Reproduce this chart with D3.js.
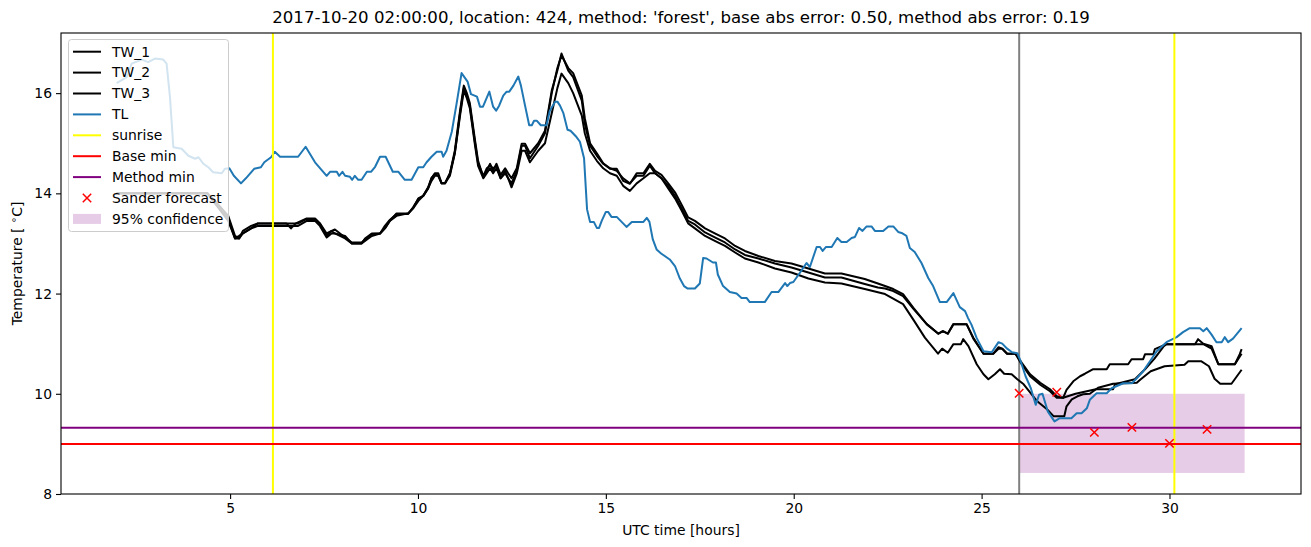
<!DOCTYPE html>
<html><head><meta charset="utf-8">
<script src="https://cdn.jsdelivr.net/npm/d3@7"></script>
<style>body{margin:0;background:#fff}svg text{font-family:"DejaVu Sans",sans-serif}</style>
</head><body><svg id="c" width="1311" height="547"></svg>
<script>
const titleText = "2017-10-20 02:00:00, location: 424, method: 'forest', base abs error: 0.50, method abs error: 0.19";
const xTicks = [5, 10, 15, 20, 25, 30];
const yTicks = [8, 10, 12, 14, 16];
const seriesNames = ["TW_1", "TW_2", "TW_3", "TL"];
const tl = [[1.98,16.2],[2.25,16.32],[2.38,16.59],[2.65,16.67],[2.82,16.62],[3.0,16.69],[3.22,16.67],[3.31,16.59],[3.4,15.92],[3.49,14.92],[3.71,14.89],[3.89,14.75],[4.07,14.69],[4.16,14.72],[4.29,14.59],[4.42,14.52],[4.55,14.42],[4.78,14.4],[4.86,14.49],[4.98,14.5],[5.1,14.35],[5.29,14.2],[5.42,14.3],[5.64,14.49],[5.82,14.52],[5.91,14.62],[6.09,14.72],[6.19,14.83],[6.33,14.73],[6.81,14.73],[7.01,14.93],[7.26,14.62],[7.57,14.35],[7.66,14.43],[7.84,14.43],[7.9,14.35],[7.99,14.43],[8.06,14.35],[8.19,14.33],[8.25,14.27],[8.32,14.35],[8.41,14.27],[8.5,14.27],[8.64,14.43],[8.75,14.43],[8.86,14.53],[8.99,14.73],[9.14,14.73],[9.33,14.43],[9.48,14.43],[9.65,14.27],[9.83,14.27],[10.01,14.52],[10.14,14.52],[10.23,14.62],[10.36,14.73],[10.5,14.83],[10.63,14.83],[10.67,14.73],[10.76,14.85],[10.9,15.23],[11.03,15.8],[11.16,16.4],[11.32,16.23],[11.41,15.98],[11.57,15.93],[11.65,15.73],[11.73,15.73],[11.9,16.03],[12.0,15.73],[12.08,15.65],[12.16,15.75],[12.27,15.95],[12.36,16.03],[12.43,16.03],[12.54,16.15],[12.67,16.33],[12.74,16.15],[12.85,15.75],[12.96,15.36],[13.03,15.36],[13.09,15.45],[13.16,15.45],[13.27,15.36],[13.42,15.36],[13.51,15.65],[13.65,15.83],[13.71,15.83],[13.78,15.75],[13.87,15.6],[13.98,15.27],[14.06,15.25],[14.2,15.14],[14.31,15.03],[14.42,14.7],[14.5,13.68],[14.58,13.43],[14.68,13.43],[14.76,13.31],[14.82,13.31],[14.89,13.45],[15.0,13.63],[15.06,13.63],[15.15,13.53],[15.29,13.53],[15.42,13.43],[15.55,13.33],[15.69,13.43],[16.0,13.43],[16.09,13.51],[16.16,13.43],[16.25,13.08],[16.35,12.88],[16.47,12.8],[16.7,12.68],[16.84,12.55],[16.97,12.3],[17.08,12.15],[17.18,12.1],[17.37,12.1],[17.5,12.2],[17.59,12.71],[17.68,12.7],[17.85,12.62],[17.93,12.62],[17.98,12.38],[18.12,12.15],[18.3,12.03],[18.48,12.0],[18.61,11.91],[18.75,11.91],[18.83,11.83],[19.23,11.83],[19.41,12.03],[19.59,12.03],[19.77,12.21],[19.83,12.15],[19.9,12.21],[19.99,12.23],[20.16,12.41],[20.34,12.61],[20.43,12.53],[20.61,12.93],[20.7,12.93],[20.77,12.85],[20.86,12.93],[21.01,12.93],[21.16,13.11],[21.27,13.03],[21.41,13.03],[21.54,13.11],[21.63,13.13],[21.74,13.31],[21.83,13.25],[21.94,13.34],[22.07,13.34],[22.16,13.25],[22.38,13.25],[22.52,13.34],[22.65,13.34],[22.78,13.23],[22.87,13.21],[23.0,13.15],[23.09,12.91],[23.22,12.83],[23.4,12.61],[23.58,12.31],[23.71,12.15],[23.89,11.83],[24.07,11.83],[24.25,12.01],[24.42,11.73],[24.56,11.65],[24.64,11.51],[24.73,11.38],[24.87,11.11],[25.05,10.85],[25.27,10.83],[25.45,11.03],[25.55,11.0],[25.68,10.9],[25.81,10.83],[25.95,10.81],[26.04,10.65],[26.17,10.35],[26.31,10.11],[26.44,9.78],[26.53,9.98],[26.62,10.0],[26.76,9.65],[26.94,9.45],[27.07,9.51],[27.39,9.51],[27.53,9.61],[27.66,9.61],[27.8,9.71],[27.88,9.88],[28.06,10.01],[28.33,10.01],[28.46,10.11],[28.77,10.21],[29.0,10.21],[29.13,10.31],[29.3,10.45],[29.48,10.65],[29.66,10.85],[29.92,11.03],[30.19,11.13],[30.36,11.23],[30.54,11.31],[30.81,11.31],[30.9,11.25],[30.99,11.31],[31.12,11.18],[31.25,11.03],[31.39,11.03],[31.47,11.13],[31.56,11.03],[31.69,11.1],[31.92,11.31]];
const tw1 = [[1.98,14.0],[4.4,14.0],[4.6,13.85],[4.95,13.55],[5.13,13.15],[5.24,13.1],[5.34,13.25],[5.56,13.35],[5.74,13.4],[6.81,13.4],[7.04,13.49],[7.26,13.49],[7.39,13.4],[7.57,13.2],[7.7,13.25],[7.79,13.28],[8.06,13.12],[8.24,13.02],[8.5,13.02],[8.59,13.08],[8.77,13.19],[8.99,13.2],[9.12,13.35],[9.25,13.47],[9.43,13.59],[9.74,13.59],[9.87,13.72],[10.01,13.89],[10.14,13.95],[10.27,14.12],[10.36,14.31],[10.45,14.39],[10.54,14.35],[10.63,14.2],[10.72,14.2],[10.85,14.39],[10.98,14.85],[11.12,15.65],[11.22,16.15],[11.3,16.0],[11.38,15.8],[11.52,15.05],[11.6,14.65],[11.74,14.32],[11.83,14.45],[11.92,14.59],[12.0,14.45],[12.09,14.59],[12.2,14.37],[12.32,14.5],[12.4,14.4],[12.49,14.3],[12.63,14.5],[12.76,14.99],[12.85,14.99],[12.98,14.8],[13.2,15.0],[13.38,15.25],[13.56,16.05],[13.71,16.45],[13.82,16.79],[14.0,16.45],[14.13,16.32],[14.36,15.85],[14.44,15.39],[14.58,14.95],[14.76,14.75],[14.93,14.59],[15.11,14.49],[15.29,14.49],[15.46,14.25],[15.64,14.19],[15.82,14.4],[16.0,14.4],[16.17,14.59],[16.31,14.45],[16.48,14.37],[16.66,14.2],[16.84,14.02],[17.02,13.77],[17.19,13.52],[17.37,13.45],[17.64,13.3],[17.9,13.2],[18.17,13.1],[18.44,12.95],[18.7,12.85],[19.06,12.75],[19.5,12.65],[19.94,12.6],[20.39,12.5],[20.83,12.4],[21.27,12.4],[21.89,12.29],[22.24,12.2],[22.43,12.15],[22.65,12.09],[22.91,11.99],[23.18,11.72],[23.54,11.39],[23.85,11.2],[23.97,11.25],[24.1,11.2],[24.25,11.39],[24.6,11.39],[24.78,11.12],[25.05,10.8],[25.31,10.8],[25.45,10.93],[25.55,10.9],[25.68,10.8],[25.9,10.8],[26.04,10.65],[26.29,10.39],[26.56,10.22],[26.82,10.09],[27.0,9.95],[27.17,9.92],[27.26,10.08],[27.44,10.25],[27.62,10.35],[27.75,10.4],[27.97,10.49],[28.33,10.49],[28.41,10.59],[28.9,10.59],[28.99,10.69],[29.3,10.69],[29.35,10.79],[29.57,10.79],[29.61,10.89],[29.92,10.99],[30.68,10.99],[30.76,11.09],[30.9,11.0],[31.12,10.95],[31.3,10.59],[31.74,10.59],[31.87,10.79],[31.92,10.89]];
const tw2 = [[1.98,14.0],[4.4,14.0],[4.6,13.8],[4.95,13.5],[5.13,13.1],[5.24,13.15],[5.34,13.2],[5.56,13.3],[5.74,13.4],[6.5,13.4],[6.62,13.3],[6.75,13.4],[7.04,13.5],[7.26,13.5],[7.39,13.4],[7.57,13.15],[7.7,13.25],[7.79,13.2],[8.06,13.15],[8.24,13.0],[8.5,13.0],[8.59,13.1],[8.77,13.2],[8.99,13.2],[9.12,13.3],[9.25,13.45],[9.43,13.6],[9.74,13.6],[9.87,13.7],[10.01,13.9],[10.14,13.95],[10.27,14.1],[10.36,14.3],[10.45,14.4],[10.54,14.4],[10.63,14.2],[10.72,14.2],[10.85,14.4],[10.98,14.8],[11.12,15.6],[11.22,16.1],[11.3,15.95],[11.38,15.75],[11.52,15.0],[11.6,14.6],[11.74,14.35],[11.83,14.5],[11.92,14.55],[12.0,14.5],[12.09,14.55],[12.2,14.3],[12.32,14.45],[12.4,14.3],[12.49,14.2],[12.63,14.45],[12.76,14.95],[12.85,14.95],[12.98,14.7],[13.2,14.95],[13.38,15.2],[13.56,16.0],[13.71,16.5],[13.82,16.75],[14.0,16.5],[14.13,16.4],[14.36,15.95],[14.44,15.5],[14.58,15.0],[14.76,14.8],[14.93,14.6],[15.11,14.5],[15.29,14.45],[15.46,14.3],[15.64,14.2],[15.82,14.35],[16.0,14.35],[16.17,14.55],[16.31,14.4],[16.48,14.3],[16.66,14.15],[16.84,13.95],[17.02,13.7],[17.19,13.45],[17.37,13.38],[17.64,13.22],[17.9,13.12],[18.17,13.02],[18.44,12.88],[18.7,12.77],[19.06,12.7],[19.5,12.6],[19.94,12.52],[20.39,12.42],[20.83,12.32],[21.27,12.32],[21.89,12.19],[22.24,12.12],[22.43,12.1],[22.65,12.05],[22.91,11.95],[23.18,11.7],[23.54,11.39],[23.85,11.2],[23.97,11.25],[24.1,11.2],[24.25,11.39],[24.6,11.39],[24.78,11.1],[25.05,10.8],[25.31,10.8],[25.45,10.9],[25.55,10.9],[25.68,10.8],[25.9,10.8],[26.04,10.62],[26.29,10.35],[26.56,10.18],[26.82,10.05],[27.0,9.92],[27.17,9.92],[27.5,10.0],[28.04,10.09],[28.5,10.09],[28.55,10.19],[29.08,10.29],[29.35,10.49],[29.6,10.7],[29.85,10.95],[29.92,10.99],[30.68,10.99],[30.9,10.99],[31.12,10.9],[31.3,10.59],[31.74,10.59],[31.92,10.8]];
const tw3 = [[1.98,14.0],[4.4,14.0],[4.6,13.8],[4.95,13.45],[5.13,13.1],[5.24,13.1],[5.34,13.2],[5.56,13.3],[5.74,13.35],[6.81,13.35],[7.04,13.45],[7.26,13.45],[7.39,13.35],[7.57,13.12],[7.7,13.2],[7.79,13.2],[8.06,13.1],[8.24,13.0],[8.5,13.0],[8.59,13.05],[8.77,13.15],[8.99,13.2],[9.12,13.3],[9.25,13.45],[9.43,13.55],[9.74,13.6],[9.87,13.7],[10.01,13.85],[10.14,13.95],[10.27,14.1],[10.36,14.25],[10.45,14.35],[10.54,14.35],[10.63,14.2],[10.72,14.2],[10.85,14.35],[10.98,14.8],[11.12,15.55],[11.22,16.05],[11.3,15.9],[11.38,15.7],[11.52,14.95],[11.6,14.55],[11.74,14.3],[11.83,14.4],[11.92,14.5],[12.0,14.4],[12.09,14.5],[12.2,14.3],[12.32,14.4],[12.4,14.3],[12.49,14.12],[12.63,14.4],[12.76,14.85],[12.85,14.85],[12.98,14.62],[13.2,14.85],[13.38,15.0],[13.56,15.6],[13.71,16.1],[13.82,16.39],[14.0,16.2],[14.13,16.0],[14.36,15.55],[14.44,15.2],[14.58,14.85],[14.76,14.65],[14.93,14.5],[15.11,14.4],[15.29,14.35],[15.46,14.15],[15.64,14.05],[15.82,14.2],[16.0,14.3],[16.17,14.4],[16.31,14.4],[16.48,14.3],[16.66,14.1],[16.84,13.9],[17.02,13.65],[17.19,13.4],[17.37,13.3],[17.64,13.15],[17.9,13.05],[18.17,12.95],[18.44,12.82],[18.7,12.7],[19.06,12.62],[19.5,12.5],[19.94,12.42],[20.39,12.3],[20.83,12.22],[21.27,12.2],[21.89,12.09],[22.43,11.99],[22.91,11.79],[23.2,11.46],[23.49,11.12],[23.84,10.8],[23.95,10.9],[24.1,10.82],[24.25,10.99],[24.45,10.99],[24.51,11.09],[24.65,10.95],[24.87,10.59],[25.05,10.39],[25.18,10.29],[25.35,10.39],[25.49,10.49],[25.6,10.4],[25.8,10.39],[25.95,10.29],[26.12,10.19],[26.48,9.85],[26.74,9.69],[26.92,9.55],[27.2,9.55],[27.26,9.75],[27.4,9.89],[27.55,9.95],[27.7,9.99],[27.88,10.0],[28.1,10.12],[28.5,10.2],[29.13,10.22],[29.22,10.28],[29.5,10.45],[29.87,10.55],[30.4,10.58],[30.5,10.65],[30.84,10.65],[31.05,10.55],[31.2,10.3],[31.35,10.2],[31.65,10.2],[31.92,10.48]];
const sunriseHours = [6.14, 30.13];
const nowHour = 26;
const baseMin = 9.0;
const methodMin = 9.32;
const forecastHours = [26, 27, 28, 29, 30, 31];
const forecastTemps = [10.01, 10.03, 9.23, 9.33, 9.01, 9.29];
const confHours = [26, 32];
const confLow = 8.42;
const confHigh = 10.0;
const legendLabels = ["TW_1", "TW_2", "TW_3", "TL", "sunrise", "Base min", "Method min", "Sander forecast", "95% confidence"];

const W = 1311, H = 547;
const L = 61, R = 1301, T = 33, B = 494;
const x = d3.scaleLinear().domain([0.5, 33.5]).range([L, R]);
const y = d3.scaleLinear().domain([8, 17.2]).range([B, T]);
const svg = d3.select("#c");
const blue = "#1f77b4";

svg.append("defs").append("clipPath").attr("id", "clip")
  .append("rect").attr("x", L).attr("y", T).attr("width", R - L).attr("height", B - T);
const plot = svg.append("g").attr("clip-path", "url(#clip)");

plot.append("rect")
  .attr("x", x(confHours[0])).attr("width", x(confHours[1]) - x(confHours[0]))
  .attr("y", y(confHigh)).attr("height", y(confLow) - y(confHigh))
  .attr("fill", "purple").attr("fill-opacity", 0.2);

plot.append("line").attr("x1", x(nowHour)).attr("x2", x(nowHour)).attr("y1", T).attr("y2", B)
  .attr("stroke", "gray").attr("stroke-width", 2);

const line = d3.line().x(d => x(d[0])).y(d => y(d[1]));
[[tw1, "black"], [tw2, "black"], [tw3, "black"], [tl, blue]].forEach(([d, c]) => {
  plot.append("path").datum(d).attr("d", line).attr("fill", "none")
    .attr("stroke", c).attr("stroke-width", 2).attr("stroke-linejoin", "round");
});

sunriseHours.forEach(h => {
  plot.append("line").attr("x1", x(h)).attr("x2", x(h)).attr("y1", T).attr("y2", B)
    .attr("stroke", "#ffff00").attr("stroke-width", 2);
});
plot.append("line").attr("x1", L).attr("x2", R).attr("y1", y(baseMin)).attr("y2", y(baseMin))
  .attr("stroke", "red").attr("stroke-width", 2);
plot.append("line").attr("x1", L).attr("x2", R).attr("y1", y(methodMin)).attr("y2", y(methodMin))
  .attr("stroke", "purple").attr("stroke-width", 2);

function xMark(g, cx, cy, s) {
  g.append("path").attr("d", `M${cx - s},${cy - s}L${cx + s},${cy + s}M${cx - s},${cy + s}L${cx + s},${cy - s}`)
    .attr("stroke", "red").attr("stroke-width", 1.5).attr("fill", "none");
}
forecastHours.forEach((h, i) => xMark(plot, x(h), y(forecastTemps[i]), 4.2));

const fs = "13.9px";
const xAxis = svg.append("g").attr("transform", `translate(0,${B})`)
  .call(d3.axisBottom(x).tickValues(xTicks).tickSize(5).tickPadding(4).tickFormat(d3.format("d")));
const yAxis = svg.append("g").attr("transform", `translate(${L},0)`)
  .call(d3.axisLeft(y).tickValues(yTicks).tickSize(5).tickPadding(4).tickFormat(d3.format("d")));
[xAxis, yAxis].forEach(a => {
  a.select(".domain").remove();
  a.selectAll("text").attr("font-size", fs).attr("font-family", "DejaVu Sans").attr("fill", "#000");
  a.selectAll("line").attr("stroke", "#000").attr("stroke-width", 1.1);
});
svg.append("rect").attr("x", L).attr("y", T).attr("width", R - L).attr("height", B - T)
  .attr("fill", "none").attr("stroke", "#000").attr("stroke-width", 1.1);

svg.append("text").attr("x", (L + R) / 2).attr("y", 23).attr("text-anchor", "middle")
  .attr("font-size", "16.6px").text(titleText);
svg.append("text").attr("x", (L + R) / 2).attr("y", 535).attr("text-anchor", "middle")
  .attr("font-size", fs).text("UTC time [hours]");
const yl = svg.append("text").attr("transform", `translate(22,${(T + B) / 2}) rotate(-90)`)
  .attr("text-anchor", "middle").attr("font-size", fs);
yl.append("tspan").text("Temperature [ ");
yl.append("tspan").attr("font-size", "10px").attr("dy", -5).text("∘");
yl.append("tspan").attr("dy", 5).text("C]");

const lg = svg.append("g");
lg.append("rect").attr("x", 68.5).attr("y", 39.5).attr("width", 160).attr("height", 192).attr("rx", 3)
  .attr("fill", "white").attr("fill-opacity", 0.8).attr("stroke", "#cccccc").attr("stroke-width", 1);
const legendColors = ["black", "black", "black", blue, "#ffff00", "red", "purple", "red", "purple"];
legendLabels.forEach((lab, i) => {
  const cy = 51.7 + i * 20.9;
  if (i < 7) {
    lg.append("line").attr("x1", 73).attr("x2", 101).attr("y1", cy).attr("y2", cy)
      .attr("stroke", legendColors[i]).attr("stroke-width", 2);
  } else if (i === 7) {
    xMark(lg, 87, cy, 4.2);
  } else {
    lg.append("rect").attr("x", 73).attr("y", cy - 5).attr("width", 28).attr("height", 10)
      .attr("fill", "purple").attr("fill-opacity", 0.2);
  }
  lg.append("text").attr("x", 112).attr("y", cy).attr("dy", "0.35em").attr("font-size", fs).text(lab);
});
</script></body></html>
